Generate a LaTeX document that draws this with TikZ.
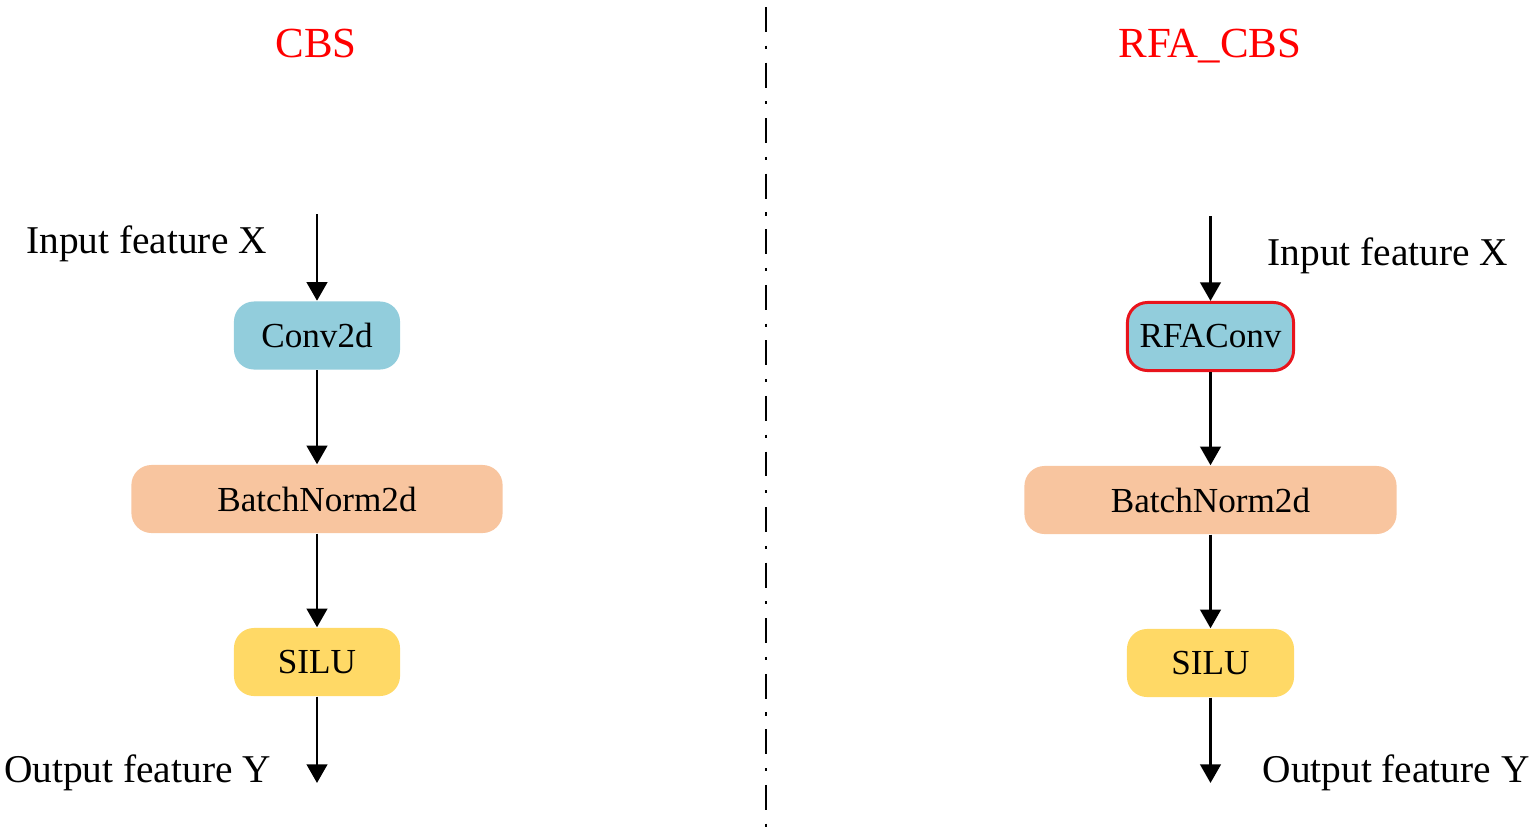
\documentclass[tikz,border=0pt]{standalone}
\usepackage{fontspec}
\setmainfont{Liberation Serif}
\usetikzlibrary{arrows.meta}
\definecolor{convblue}{HTML}{92CDDC}
\definecolor{normpeach}{HTML}{F8C59F}
\definecolor{actyellow}{HTML}{FFD966}
\definecolor{rfared}{HTML}{E8141C}
\tikzset{
  block/.style={rounded corners=5.7pt, inner sep=0pt, minimum height=0.68cm, font=\fontsize{10}{12}\selectfont},
  flow/.style={line width=0.85pt, -{Triangle[width=5.8pt,length=5.3pt]}},
  label/.style={anchor=base, font=\fontsize{11.2}{13}\selectfont},
  title/.style={anchor=base, text=red, font=\fontsize{12.2}{14}\selectfont}
}
\begin{document}
\begin{tikzpicture}[x=0.01cm,y=-0.01cm]
\useasboundingbox (0,0) rectangle (1536,839);
% divider
\draw[line width=0.65pt, dash pattern=on 7.1pt off 3.9pt on 0.9pt off 3.9pt] (766,7) -- (766,839);
% left: CBS
\node[title] (titleL) at (316,57) {CBS};
\coordinate (inL) at (317,214);
\node[block, fill=convblue, minimum width=1.66cm] (convL) at (317,335.5) {Conv2d};
\node[block, fill=normpeach, minimum width=3.71cm] (bnL) at (317,499) {BatchNorm2d};
\node[block, fill=actyellow, minimum width=1.66cm] (siluL) at (317,662) {SILU};
\coordinate (outL) at (317,783);
\node[label] (inlabL) at (146.5,253) {Input feature X};
\node[label] (outlabL) at (137.5,782) {Output feature Y};
\draw[flow] (inL) -- (convL);
\draw[flow] (convL) -- (bnL);
\draw[flow] (bnL) -- (siluL);
\draw[flow] (siluL) -- (outL);
% right: RFA_CBS
\node[title] (titleR) at (1210,57) {RFA\_CBS};
\coordinate (inR) at (1210.5,216);
\node[block, fill=convblue, draw=rfared, line width=0.85pt, minimum width=1.66cm] (convR) at (1210.5,336.5) {RFAConv};
\node[block, fill=normpeach, minimum width=3.72cm] (bnR) at (1210.5,500) {BatchNorm2d};
\node[block, fill=actyellow, minimum width=1.67cm] (siluR) at (1210.5,663) {SILU};
\coordinate (outR) at (1210.5,783);
\node[label] (inlabR) at (1388,265) {Input feature X};
\node[label] (outlabR) at (1396,782) {Output feature Y};
\draw[flow] (inR) -- (convR);
\draw[flow] (convR) -- (bnR);
\draw[flow] (bnR) -- (siluR);
\draw[flow] (siluR) -- (outR);
\end{tikzpicture}
\end{document}
